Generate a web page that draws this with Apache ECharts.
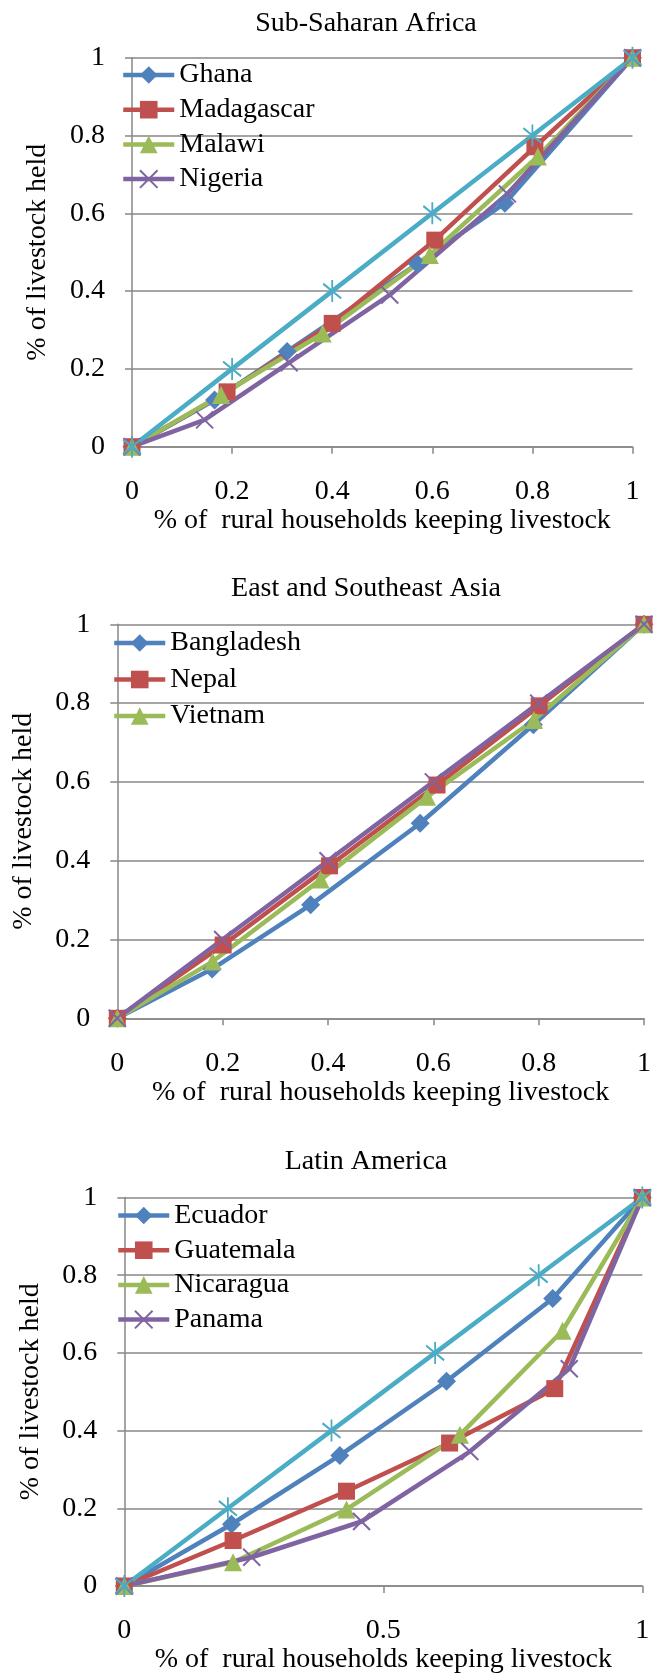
<!DOCTYPE html>
<html>
<head>
<meta charset="utf-8">
<script src="https://cdn.jsdelivr.net/npm/echarts@6/dist/echarts.min.js"></script>
<style>
  html, body { margin: 0; padding: 0; background: #fff; }
  #chart { width: 654px; height: 1675px; }
</style>
</head>
<body>
<div id="chart"></div>
<script>
const font = "Liberation Serif";
const fontSize = 28;
const axisGrey = "#878787";
const colors = {
  blue: "#4F81BD",
  red: "#C0504D",
  green: "#9BBB59",
  purple: "#8064A2",
  cyan: "#4BACC6"
};

const titles = ["Sub-Saharan Africa", "East and Southeast Asia", "Latin America"];
const xName = "% of  rural households keeping livestock";
const yName = "% of livestock held";

// equality line (not in legend)
const equalX = [0, 0.2, 0.4, 0.6, 0.8, 1];
const equalY = [0, 0.2, 0.4, 0.6, 0.8, 1];

// Sub-Saharan Africa
const africaNames = ["Ghana", "Madagascar", "Malawi", "Nigeria"];
const ghanaX = [0, 0.165, 0.31, 0.57, 0.745, 1];
const ghanaY = [0, 0.12, 0.245, 0.47, 0.626, 1];
const madagascarX = [0, 0.19, 0.40, 0.605, 0.805, 1];
const madagascarY = [0, 0.141, 0.317, 0.531, 0.771, 1];
const malawiX = [0, 0.178, 0.381, 0.595, 0.811, 1];
const malawiY = [0, 0.133, 0.291, 0.493, 0.746, 1];
const nigeriaX = [0, 0.145, 0.314, 0.515, 0.75, 1];
const nigeriaY = [0, 0.069, 0.216, 0.39, 0.65, 1];

// East and Southeast Asia
const asiaNames = ["Bangladesh", "Nepal", "Vietnam"];
const bangladeshX = [0, 0.18, 0.367, 0.575, 0.79, 1];
const bangladeshY = [0, 0.125, 0.288, 0.495, 0.745, 1];
const nepalX = [0, 0.201, 0.403, 0.607, 0.801, 1];
const nepalY = [0, 0.186, 0.387, 0.592, 0.793, 1];
const vietnamX = [0, 0.181, 0.386, 0.588, 0.791, 1];
const vietnamY = [0, 0.144, 0.352, 0.562, 0.757, 1];

// Latin America
const latinNames = ["Ecuador", "Guatemala", "Nicaragua", "Panama"];
const ecuadorX = [0, 0.207, 0.416, 0.622, 0.827, 1];
const ecuadorY = [0, 0.159, 0.336, 0.527, 0.74, 1];
const guatemalaX = [0, 0.21, 0.429, 0.628, 0.831, 1];
const guatemalaY = [0, 0.117, 0.244, 0.368, 0.508, 1];
const nicaraguaX = [0, 0.21, 0.429, 0.648, 0.846, 1];
const nicaraguaY = [0, 0.061, 0.197, 0.389, 0.657, 1];
const panamaX = [0, 0.246, 0.458, 0.667, 0.859, 1];
const panamaY = [0, 0.074, 0.166, 0.346, 0.559, 1];

const xPath = "path://M0,0L10,10M10,0L0,10";
const starPath = "path://M1,2L9,10M9,2L1,10M5,0L5,12";

const baseText = { fontFamily: font, fontSize, color: "#000" };

const layouts = [
  { left: 132, top: 57.7, width: 500.5, height: 389, xStep: 0.2, titleTop: 10, legendLeft: 121, legendTop: 61, legendGap: 6.7 },
  { left: 117.3, top: 624.3, width: 531, height: 394, xStep: 0.2, titleTop: 575, legendLeft: 112, legendTop: 629, legendGap: 8.5 },
  { left: 124.3, top: 1197.5, width: 518, height: 391.5, xStep: 0.5, titleTop: 1148, legendLeft: 116, legendTop: 1201.5, legendGap: 6.7 }
];

function zip(xs, ys) {
  return xs.map((x, i) => [x, ys[i]]);
}

function lineSeries(name, idx, xs, ys, color, symbol, size, stroked) {
  return {
    type: "line",
    name,
    xAxisIndex: idx,
    yAxisIndex: idx,
    data: zip(xs, ys),
    symbol,
    symbolSize: size,
    lineStyle: { width: 4.5, color },
    itemStyle: stroked
      ? { color: color, borderColor: color, borderWidth: 2 }
      : { color: color },
    emphasis: { disabled: true },
    z: 2
  };
}

const series = [
  lineSeries("Ghana", 0, ghanaX, ghanaY, colors.blue, "diamond", 19),
  lineSeries("Madagascar", 0, madagascarX, madagascarY, colors.red, "rect", 17),
  lineSeries("Malawi", 0, malawiX, malawiY, colors.green, "triangle", 18),
  lineSeries("Nigeria", 0, nigeriaX, nigeriaY, colors.purple, xPath, 17, true),
  lineSeries("Equality A", 0, equalX, equalY, colors.cyan, starPath, [18, 22], true),

  lineSeries("Bangladesh", 1, bangladeshX, bangladeshY, colors.blue, "diamond", 19),
  lineSeries("Nepal", 1, nepalX, nepalY, colors.red, "rect", 17),
  lineSeries("Vietnam", 1, vietnamX, vietnamY, colors.green, "triangle", 18),
  lineSeries("Equality B", 1, equalX, equalY, colors.purple, xPath, 17, true),

  lineSeries("Ecuador", 2, ecuadorX, ecuadorY, colors.blue, "diamond", 19),
  lineSeries("Guatemala", 2, guatemalaX, guatemalaY, colors.red, "rect", 17),
  lineSeries("Nicaragua", 2, nicaraguaX, nicaraguaY, colors.green, "triangle", 18),
  lineSeries("Panama", 2, panamaX, panamaY, colors.purple, xPath, 17, true),
  lineSeries("Equality C", 2, equalX, equalY, colors.cyan, starPath, [18, 22], true)
];

const legendNames = [africaNames, asiaNames, latinNames];

const chart = echarts.init(document.getElementById("chart"), null, { renderer: "canvas" });

chart.setOption({
  animation: false,
  textStyle: baseText,
  title: layouts.map((l, i) => ({
    text: titles[i],
    left: 366,
    top: l.titleTop,
    textAlign: "center",
    padding: 0,
    textStyle: { fontFamily: font, fontSize, fontWeight: "normal", color: "#000" }
  })),
  legend: layouts.map((l, i) => ({
    data: legendNames[i],
    orient: "vertical",
    left: l.legendLeft,
    top: l.legendTop,
    padding: 0,
    itemGap: l.legendGap,
    itemWidth: 51,
    itemHeight: 22,
    selectedMode: false,
    lineStyle: { width: 4.5 },
    textStyle: { fontFamily: font, fontSize, color: "#000", padding: [0, 0, 0, 0] }
  })),
  grid: layouts.map((l) => ({
    left: l.left,
    top: l.top,
    width: l.width,
    height: l.height
  })),
  xAxis: layouts.map((l, i) => ({
    type: "value",
    gridIndex: i,
    min: 0,
    max: 1,
    interval: l.xStep,
    name: xName,
    nameLocation: "middle",
    nameGap: 60,
    nameTextStyle: { fontFamily: font, fontSize, color: "#000" },
    axisLine: { show: true, lineStyle: { color: axisGrey, width: 1.5 } },
    axisTick: { show: true, length: 7, lineStyle: { color: axisGrey, width: 1.5 } },
    axisLabel: { margin: 31, fontFamily: font, fontSize, color: "#000" },
    splitLine: { show: false }
  })),
  yAxis: layouts.map((l, i) => ({
    type: "value",
    gridIndex: i,
    min: 0,
    max: 1,
    interval: 0.2,
    name: yName,
    nameLocation: "middle",
    nameGap: 80,
    nameTextStyle: { fontFamily: font, fontSize, color: "#000" },
    axisLine: { show: true, lineStyle: { color: axisGrey, width: 1.5 } },
    axisTick: { show: true, length: 7, lineStyle: { color: axisGrey, width: 1.5 } },
    axisLabel: { margin: 27, fontFamily: font, fontSize, color: "#000" },
    splitLine: { show: true, lineStyle: { color: axisGrey, width: 1.5 } }
  })),
  series
});
</script>
</body>
</html>
